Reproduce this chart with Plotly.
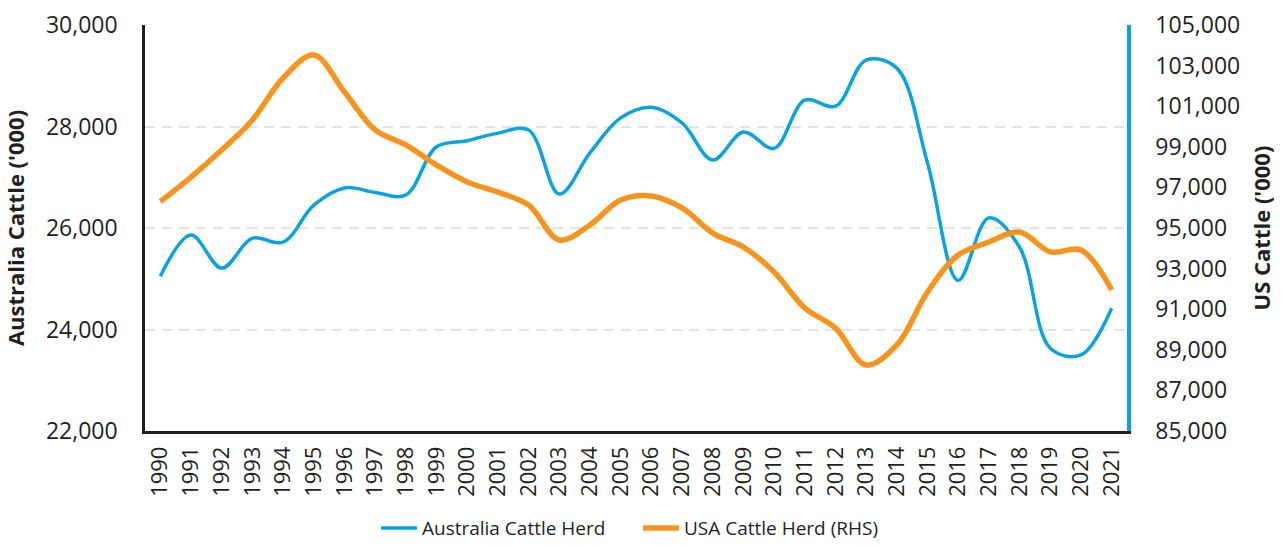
import plotly.graph_objects as go

years = list(range(1990, 2022))
australia = [25050, 25860, 25210, 25800, 25720, 26450, 26790, 26700, 26650, 27600,
             27720, 27870, 27930, 26670, 27480, 28170, 28380, 28070, 27340, 27890,
             27570, 28520, 28400, 29310, 29150, 27280, 24970, 26200, 25620, 23630,
             23500, 24420]
usa = [96300, 97510, 98840, 100320, 102390, 103520, 101700, 99830, 99090, 98100,
       97270, 96770, 96130, 94410, 95150, 96380, 96580, 95990, 94750, 94060,
       92830, 91060, 90070, 88250, 89240, 91850, 93670, 94310, 94800, 93820,
       93920, 91950]
left_ticks = [22000, 24000, 26000, 28000, 30000]
right_ticks = list(range(85000, 105001, 2000))

BLUE = "#0aa3df"
ORANGE = "#f7941d"
DARK = "#231f20"
FONT = "Open Sans"

fig = go.Figure()
fig.add_trace(go.Scatter(x=years, y=australia, name="Australia Cattle Herd", mode="lines",
                         line=dict(color=BLUE, width=3.5, shape="spline", smoothing=1.0)))
fig.add_trace(go.Scatter(x=years, y=usa, name="USA Cattle Herd (RHS)", mode="lines", yaxis="y2",
                         line=dict(color=ORANGE, width=5.5, shape="spline", smoothing=1.0)))

fig.update_layout(
    width=1288, height=545,
    margin=dict(l=145, r=161, t=25, b=114, autoexpand=False),
    paper_bgcolor="white", plot_bgcolor="white",
    font=dict(family=FONT, color=DARK),
    showlegend=True,
    legend=dict(orientation="h", x=0.502, xanchor="center", y=-0.239, yanchor="middle",
                font=dict(size=19, color=DARK), itemwidth=36,
                entrywidth=211, entrywidthmode="pixels"),
    xaxis=dict(range=[1989.5, 2021.5], tickvals=years, ticktext=[str(y) for y in years],
               tickangle=-90, tickfont=dict(size=22, color=DARK), showgrid=False,
               showline=True, linecolor=DARK, linewidth=2.5, ticks="", zeroline=False,
               ticklabelstandoff=4, automargin=False),
    yaxis=dict(range=[22000, 30000], tickvals=left_ticks, tickformat=",",
               tickfont=dict(size=23, color=DARK), showgrid=True, gridcolor="#e3e3e3",
               gridwidth=2, griddash="10px,7px", showline=True, linecolor=DARK, linewidth=2.5,
               ticks="", zeroline=False, ticklabelstandoff=20, automargin=False,
               title=dict(text="<b>Australia Cattle ('000)</b>", font=dict(size=22, color=DARK),
                          standoff=20)),
    yaxis2=dict(range=[85000, 105000], tickvals=right_ticks, tickformat=",", overlaying="y",
                side="right", tickfont=dict(size=23, color=DARK), showgrid=False,
                showline=True, linecolor=BLUE, linewidth=3.5, ticks="", zeroline=False,
                ticklabelstandoff=20, automargin=False,
                title=dict(text="<b>US Cattle ('000)</b>", font=dict(size=22, color=DARK),
                           standoff=16)),
)

fig.write_html("out.html", config={"displayModeBar": False},
               post_script="document.body.style.margin='0';document.body.style.padding='0';")
